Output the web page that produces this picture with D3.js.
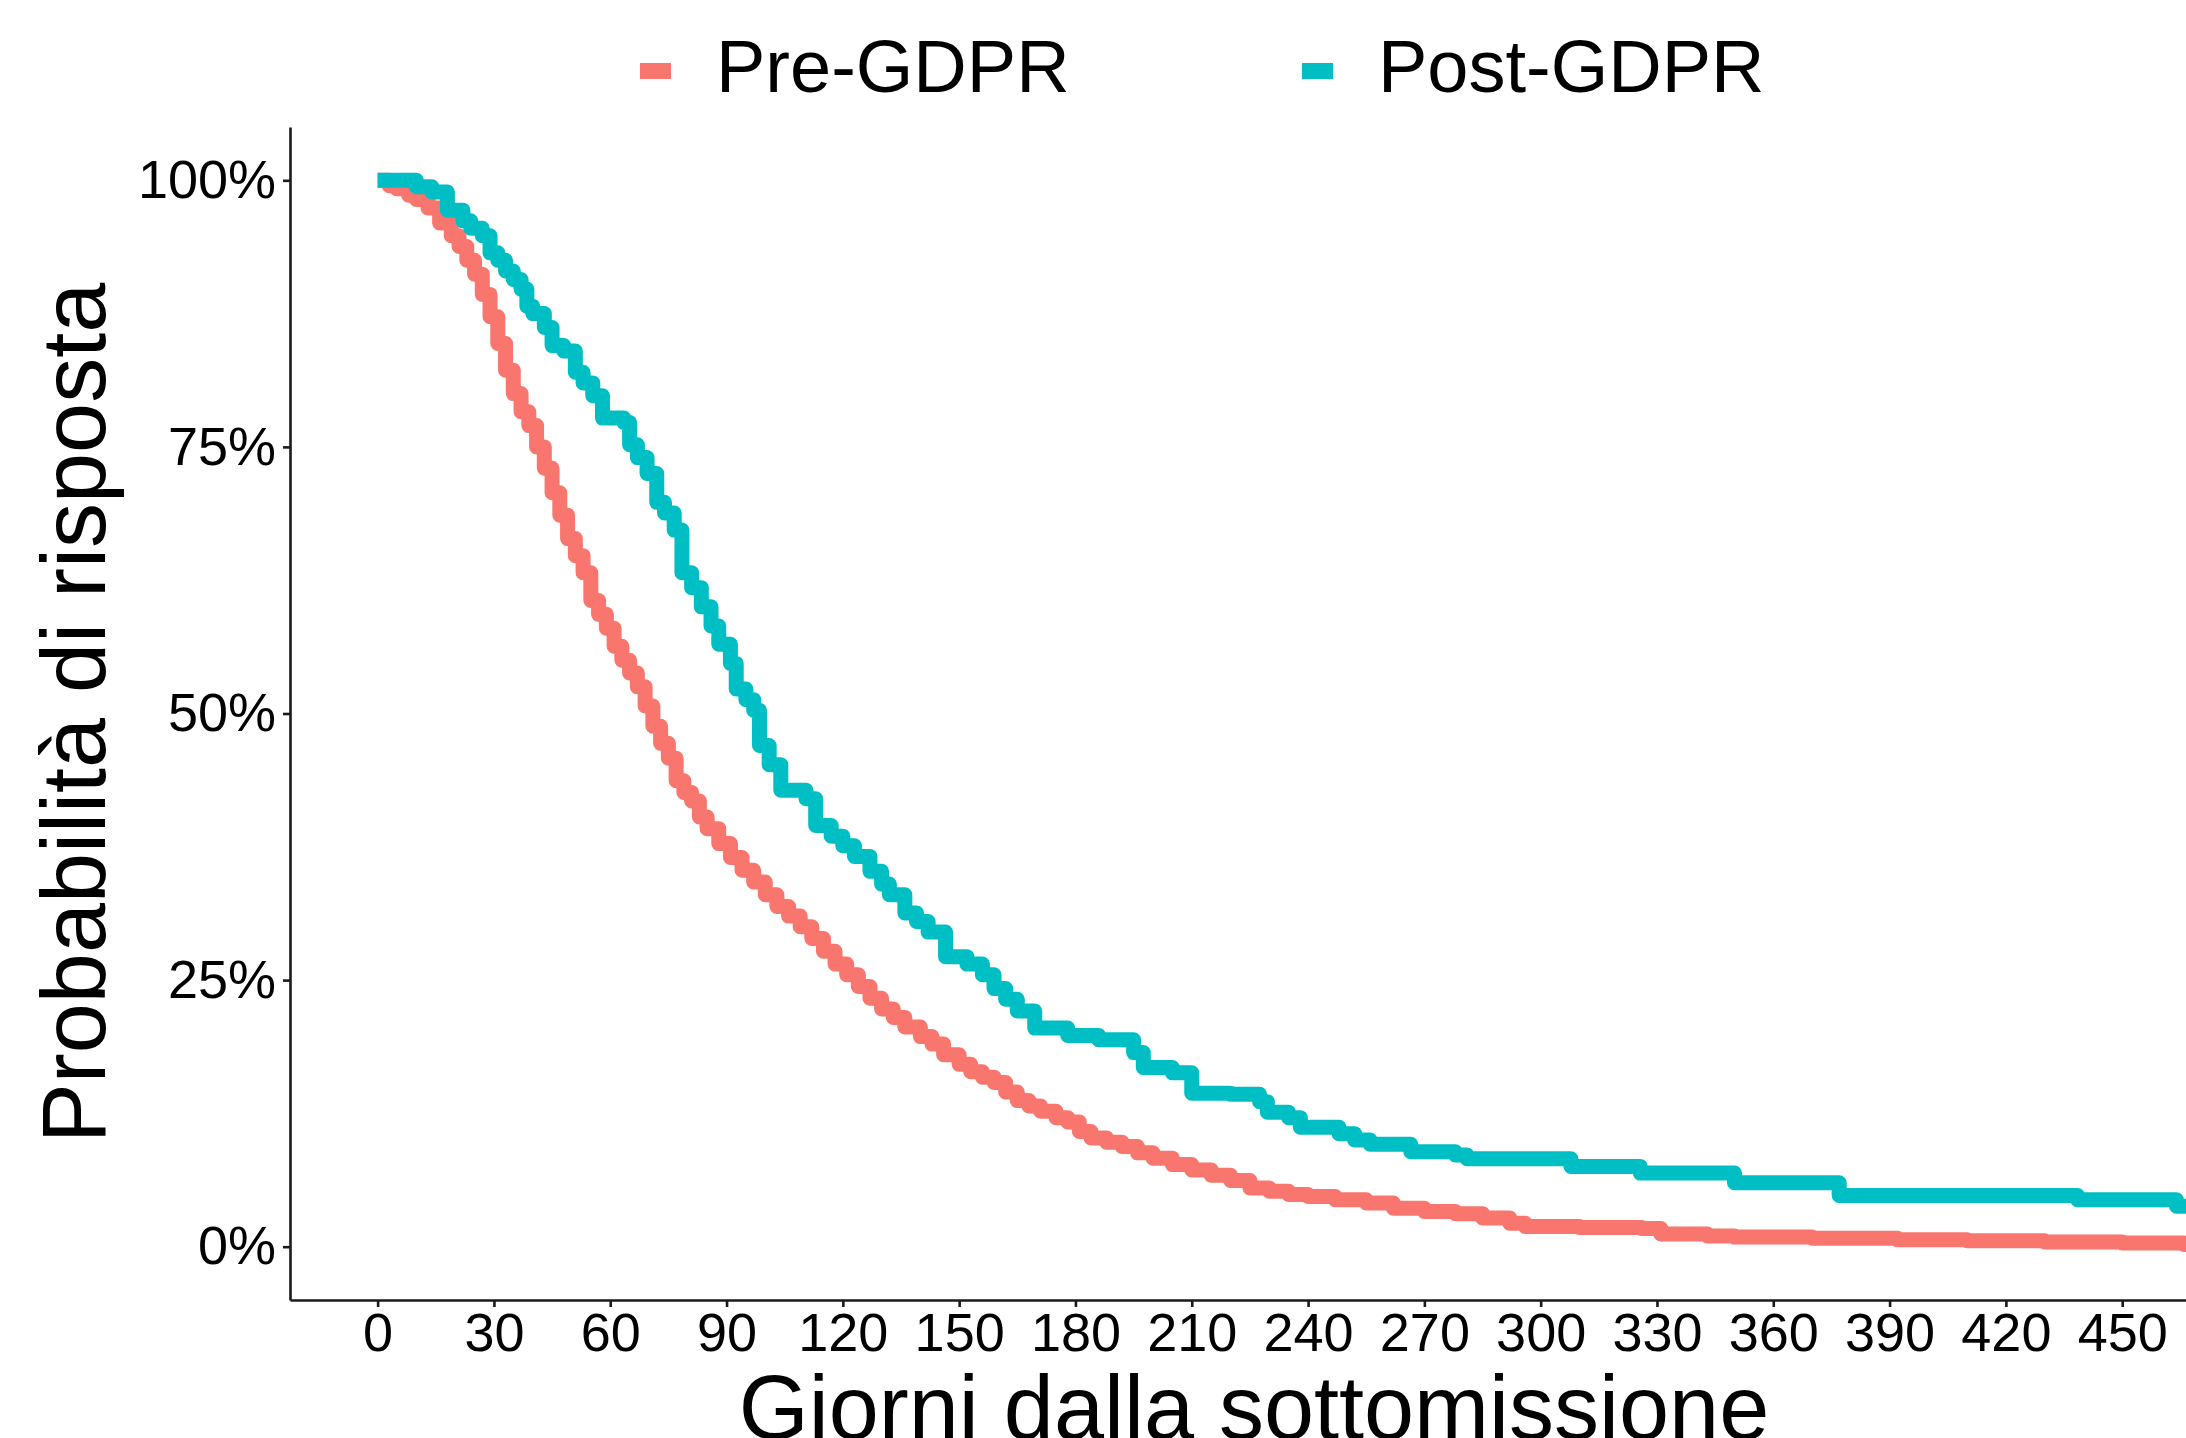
<!DOCTYPE html>
<html>
<head>
<meta charset="utf-8">
<script src="https://cdn.jsdelivr.net/npm/d3@7"></script>
<style>
body { margin: 0; background: #fff; }
svg { display: block; font-family: "Liberation Sans", Arial, Helvetica, sans-serif; }
</style>
</head>
<body>
<div id="chart"></div>
<script>
//chart size
var width = 2186;
var height = 1438;

//series names and colours
var groups = ["Pre-GDPR", "Post-GDPR"];
var colours = ["#F8766D", "#00BFC4"];

//x ticks (days) and y ticks (share)
var xTicks = [0, 30, 60, 90, 120, 150, 180, 210, 240, 270, 300, 330, 360, 390, 420, 450];
var yTicks = [0, 0.25, 0.5, 0.75, 1];

//Pre-GDPR survival curve: days, probability
var preDays = [0, 3, 5, 8, 10, 13, 16, 19, 21, 23, 25, 27, 29, 31, 33, 35, 37, 39, 41, 43,
	45, 47, 49, 51, 53, 55, 57, 59, 61, 63, 65, 67, 69, 71, 73, 75, 77, 79, 81, 83,
	85, 88, 91, 94, 97, 100, 103, 106, 109, 112, 115, 118, 121, 124, 127, 130, 133, 136, 140, 143,
	146, 150, 153, 156, 159, 162, 165, 168, 171, 175, 178, 181, 184, 188, 192, 196, 200, 205, 210, 215,
	220, 225, 230, 235, 240, 247, 255, 262, 270, 278, 285, 292, 296, 310, 326, 331, 343, 350, 370, 392,
	410, 430, 450, 466, 476];
var preProb = [1, 0.995, 0.992, 0.986, 0.982, 0.974, 0.96, 0.948, 0.938, 0.925, 0.912, 0.893, 0.872, 0.847, 0.822, 0.8, 0.783, 0.77, 0.75, 0.73,
	0.707, 0.686, 0.664, 0.648, 0.632, 0.606, 0.593, 0.58, 0.563, 0.55, 0.538, 0.525, 0.507, 0.488, 0.472, 0.458, 0.437, 0.426, 0.418, 0.403,
	0.392, 0.378, 0.365, 0.353, 0.342, 0.33, 0.319, 0.31, 0.3, 0.289, 0.277, 0.265, 0.255, 0.244, 0.233, 0.223, 0.215, 0.206, 0.197, 0.19,
	0.18, 0.171, 0.164, 0.159, 0.154, 0.145, 0.137, 0.132, 0.127, 0.121, 0.117, 0.108, 0.102, 0.098, 0.094, 0.088, 0.083, 0.077, 0.072, 0.067,
	0.062, 0.055, 0.052, 0.049, 0.047, 0.044, 0.041, 0.036, 0.033, 0.031, 0.027, 0.022, 0.019, 0.018, 0.017, 0.012, 0.01, 0.009, 0.008, 0.0066,
	0.0055, 0.0045, 0.0035, 0.002, 0.0015];

//Post-GDPR survival curve: days, probability
var postDays = [0, 10, 14, 18, 22, 24, 27, 29, 31, 33, 35, 37, 38.5, 40, 43, 45, 48, 51, 53, 55.5,
	58, 63.5, 65, 67, 69.5, 72, 74, 76.5, 78.5, 81, 83.5, 86, 88, 91, 92.5, 95, 97, 98.5, 101, 104,
	110.5, 113, 117, 120, 123, 127, 130, 132, 136, 139, 142, 146.5, 152, 156, 159, 162, 165, 169.5, 178, 186,
	195, 197.5, 205, 210, 220, 227.5, 229.5, 235, 238, 248, 252, 256, 266.5, 278, 281, 307.8, 325.7, 350, 377, 438.5,
	464, 476];
var postProb = [1, 0.994, 0.989, 0.972, 0.962, 0.955, 0.948, 0.932, 0.925, 0.915, 0.907, 0.898, 0.882, 0.875, 0.862, 0.845, 0.84, 0.82, 0.81, 0.798,
	0.777, 0.773, 0.752, 0.74, 0.725, 0.698, 0.688, 0.672, 0.632, 0.618, 0.6, 0.582, 0.565, 0.547, 0.523, 0.513, 0.503, 0.47, 0.452, 0.428,
	0.42, 0.395, 0.385, 0.376, 0.366, 0.352, 0.34, 0.33, 0.313, 0.305, 0.295, 0.272, 0.265, 0.255, 0.242, 0.232, 0.221, 0.205, 0.198, 0.194,
	0.182, 0.168, 0.163, 0.144, 0.143, 0.136, 0.126, 0.121, 0.112, 0.106, 0.1, 0.096, 0.089, 0.086, 0.0825, 0.0753, 0.069, 0.06, 0.048, 0.044,
	0.038, 0.038];

var svg = d3.select("#chart").append("svg")
	.attr("width", width)
	.attr("height", height);

var x = d3.scaleLinear().domain([-22.6, 475.1]).range([290, 2219.5]);
var y = d3.scaleLinear().domain([-0.05, 1.05]).range([1300, 127]);

function toPoints(days, prob) {
	return days.map(function (d, i) { return {t: d, s: prob[i]}; });
}

var series = [toPoints(preDays, preProb), toPoints(postDays, postProb)];

var line = d3.line()
	.curve(d3.curveStepAfter)
	.x(function (d) { return x(d.t); })
	.y(function (d) { return y(d.s); });

svg.selectAll("path.curve")
	.data(series)
	.enter()
	.append("path")
	.attr("class", "curve")
	.attr("d", line)
	.style("fill", "none")
	.style("stroke", function (d, i) { return colours[i]; })
	.style("stroke-width", 15)
	.style("stroke-linejoin", "round");

//axes
var xAxis = svg.append("g")
	.attr("transform", "translate(0,1300)")
	.call(d3.axisBottom(x).tickValues(xTicks).tickSize(7).tickSizeOuter(0).tickPadding(6));

var yAxis = svg.append("g")
	.attr("transform", "translate(290,0)")
	.call(d3.axisLeft(y).tickValues(yTicks).tickFormat(d3.format(".0%")).tickSize(7).tickSizeOuter(0).tickPadding(7));

[xAxis, yAxis].forEach(function (a) {
	a.selectAll("path, line").style("stroke", "#1a1a1a").style("stroke-width", 2.6);
	a.selectAll("text").style("font-size", "54px").style("fill", "#000").style("font-family", null);
});

//axis titles
svg.append("text")
	.attr("x", 1254)
	.attr("y", 1439)
	.attr("text-anchor", "middle")
	.style("font-size", "90px")
	.text("Giorni dalla sottomissione");

svg.append("text")
	.attr("transform", "translate(105,713) rotate(-90)")
	.attr("text-anchor", "middle")
	.style("font-size", "90px")
	.text("Probabilità di risposta");

//legend
var legendX = [640, 1302];
var legend = svg.selectAll("g.key")
	.data(groups)
	.enter()
	.append("g")
	.attr("class", "key")
	.attr("transform", function (d, i) { return "translate(" + legendX[i] + ",0)"; });

legend.append("line")
	.attr("x1", 0)
	.attr("x2", 31)
	.attr("y1", 71)
	.attr("y2", 71)
	.style("stroke", function (d, i) { return colours[i]; })
	.style("stroke-width", 16);

legend.append("text")
	.attr("x", 76)
	.attr("y", 92)
	.style("font-size", "74px")
	.text(function (d) { return d; });
</script>
</body>
</html>
